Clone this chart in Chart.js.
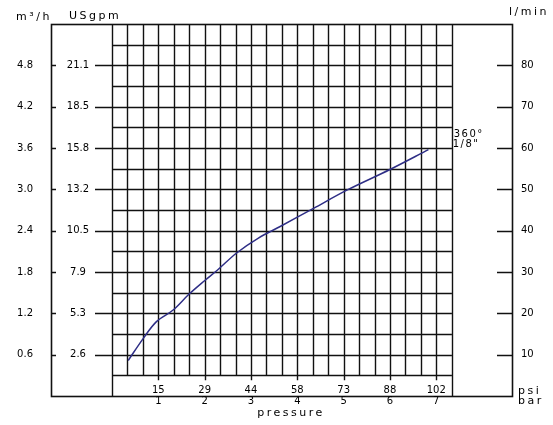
<!DOCTYPE html>
<html><head><meta charset="utf-8">
<script src="https://cdn.jsdelivr.net/npm/chart.js@4"></script>
<style>html,body{margin:0;padding:0;background:#fff}#wrap{width:553px;height:425px}</style>
</head><body><div id="wrap"><canvas id="c" width="553" height="425"></canvas></div>
<script>
// ---- data ----
const pressureBar = [0.35, 0.68, 0.96, 1.32, 1.66, 2.01, 2.29, 2.69, 3.16, 3.63, 4.35, 5.07, 6.0, 6.83];
const flowLmin    = [8.6, 14.0, 18.0, 20.8, 24.6, 28.0, 30.6, 34.6, 38.2, 41.0, 45.4, 49.8, 54.8, 59.6];
const barTicks   = [1, 2, 3, 4, 5, 6, 7];
const psiLabels  = ['15', '29', '44', '58', '73', '88', '102'];
const lminTicks  = [10, 20, 30, 40, 50, 60, 70, 80];
const m3hLabels  = ['0.6', '1.2', '1.8', '2.4', '3.0', '3.6', '4.2', '4.8'];
const gpmLabels  = ['2.6', '5.3', '7.9', '10.5', '13.2', '15.8', '18.5', '21.1'];
const curveLabel = ['360°', '1/8"'];
const xGridMax = 22 / 3;   // grid spans 0 .. 7 1/3 bar in thirds
const yGridMin = 5, yGridStep = 5, yMax = 90;

const TXT = '11px "DejaVu Sans"';
const NUM = '10px "DejaVu Sans"';

const framePlugin = {
  id: 'frame',
  beforeDatasetsDraw(chart) {
    const {ctx, chartArea: a, scales: {x: sx, y: sy}} = chart;
    const X = v => sx.getPixelForValue(v), Y = v => sy.getPixelForValue(v);
    const P = v => Math.round(v) + 0.5;
    const gl = X(0), gr = X(xGridMax), gt = Y(yMax), gb = Y(yGridMin), fb = Y(0);
    ctx.save();
    ctx.strokeStyle = '#111';
    ctx.lineWidth = 1.4;
    ctx.beginPath();
    for (let k = 0; k * 1 / 3 <= xGridMax + 1e-6; k++) {
      const xx = P(X(k / 3));
      const last = Math.abs(k / 3 - xGridMax) < 1e-6;
      ctx.moveTo(xx, gt); ctx.lineTo(xx, (k === 0 || last) ? fb : gb);
    }
    for (let v = yGridMin; v < yMax; v += yGridStep) {
      const yy = P(Y(v));
      ctx.moveTo(gl, yy); ctx.lineTo(gr, yy);
    }
    barTicks.forEach(b => { const xx = P(X(b)); ctx.moveTo(xx, gb); ctx.lineTo(xx, gb + 5); });
    lminTicks.forEach(v => {
      const yy = P(Y(v));
      ctx.moveTo(a.left, yy); ctx.lineTo(a.left + 5, yy);
      ctx.moveTo(a.left + 44, yy); ctx.lineTo(gl, yy);
      ctx.moveTo(a.right - 15, yy); ctx.lineTo(a.right, yy);
    });
    ctx.stroke();
    ctx.lineWidth = 1.6;
    ctx.strokeRect(P(a.left), P(a.top), Math.round(a.right - a.left), Math.round(a.bottom - a.top));
    ctx.restore();
  },
  afterDraw(chart) {
    const {ctx, chartArea: a, scales: {x: sx, y: sy}} = chart;
    const X = v => sx.getPixelForValue(v), Y = v => sy.getPixelForValue(v);
    const fb = Y(0), gr = X(xGridMax);
    ctx.save();
    ctx.fillStyle = '#000';
    ctx.textBaseline = 'middle';
    ctx.font = NUM; ctx.textAlign = 'center';
    lminTicks.forEach((v, i) => ctx.fillText(gpmLabels[i], a.left + 27, Y(v)));
    barTicks.forEach((b, i) => {
      ctx.fillText(psiLabels[i], X(b), fb - 6);
      ctx.fillText(String(b), X(b), fb + 5);
    });
    ctx.textAlign = 'left';
    ctx.letterSpacing = '1.5px';
    const ly = Y(flowLmin[flowLmin.length - 1]);
    ctx.fillText(curveLabel[0], gr + 2, ly - 15);
    ctx.fillText(curveLabel[1], gr + 1, ly - 5.5);
    ctx.font = TXT; ctx.letterSpacing = '2.5px';
    ctx.textAlign = 'center';
    ctx.fillText('m³/h', 34, 17);
    ctx.fillText('USgpm', 95, 16);
    ctx.fillText('l/min', 529, 12);
    ctx.textAlign = 'left';
    ctx.fillText('psi', a.right + 6, fb - 5);
    ctx.fillText('bar', a.right + 6, fb + 5);
    ctx.textAlign = 'center';
    ctx.fillText('pressure', 291, fb + 17);
    ctx.restore();
  }
};

new Chart(document.getElementById('c'), {
  type: 'line',
  data: {
    datasets: [{
      data: pressureBar.map((p, i) => ({x: p, y: flowLmin[i]})),
      borderColor: '#2e2e86',
      borderWidth: 1.5,
      pointRadius: 0,
      tension: 0.35,
      fill: false,
      yAxisID: 'y'
    }]
  },
  options: {
    responsive: false,
    animation: false,
    devicePixelRatio: 1,
    layout: {padding: {top: 23, bottom: 29, left: 0, right: 0}},
    plugins: {legend: {display: false}, tooltip: {enabled: false}},
    scales: {
      x: {type: 'linear', min: -1.3166, max: 8.634, display: false},
      y: {
        type: 'linear', position: 'right', min: 0, max: yMax,
        grid: {display: false, drawTicks: false}, border: {display: false},
        ticks: {stepSize: 10, autoSkip: false, padding: 9, color: '#000', font: {family: 'DejaVu Sans', size: 10},
          callback: v => lminTicks.includes(v) ? String(v) : ''},
        afterFit: s => { s.width = 41; }
      },
      y2: {
        type: 'linear', position: 'left', min: 0, max: yMax,
        grid: {display: false, drawTicks: false}, border: {display: false},
        ticks: {stepSize: 10, autoSkip: false, padding: 18, color: '#000', font: {family: 'DejaVu Sans', size: 10},
          callback: v => { const i = lminTicks.indexOf(v); return i >= 0 ? m3hLabels[i] : ''; }},
        afterFit: s => { s.width = 51; }
      }
    }
  },
  plugins: [framePlugin]
});
</script>
</body></html>
